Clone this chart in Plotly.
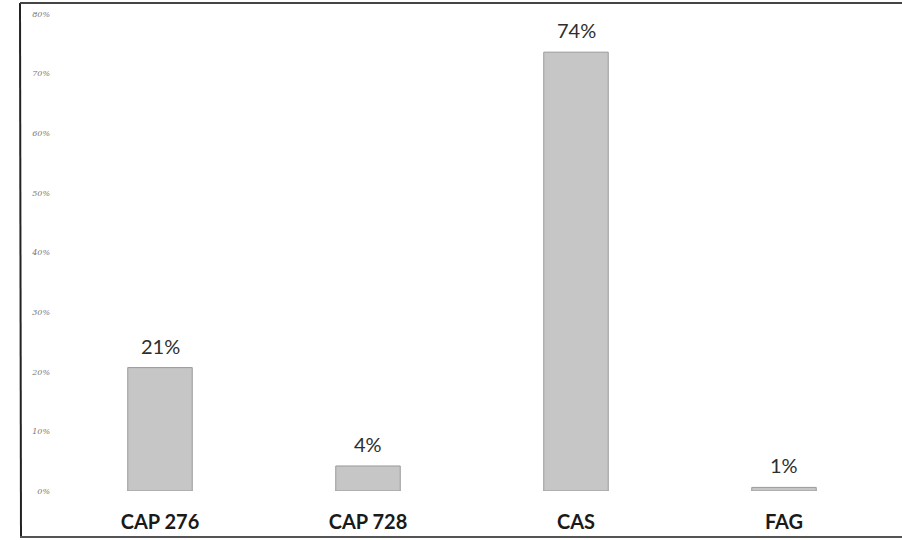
import plotly.graph_objects as go

categories = ["CAP 276", "CAP 728", "CAS", "FAG"]
values = [20.7, 4.2, 73.6, 0.6]
value_labels = ["21%", "4%", "74%", "1%"]
tick_vals = [0, 10, 20, 30, 40, 50, 60, 70, 80]
tick_text = ["0%", "10%", "20%", "30%", "40%", "50%", "60%", "70%", "80%"]

fig = go.Figure()
fig.add_trace(go.Bar(
    x=list(range(len(categories))), y=values,
    marker=dict(color="#c6c6c6", line=dict(color="#9a9a9a", width=1)),
    width=0.31,
    hoverinfo="skip",
))

for i, (v, t) in enumerate(zip(values, value_labels)):
    fig.add_annotation(x=i, y=v, text=t, showarrow=False, yanchor="bottom",
                       yshift=8, font=dict(family="Lato, sans-serif", size=20, color="#2e2e2e"))

W, H = 902, 540
ml, mr, mt, mb = 56, 0, 14, 49
pw, ph = W - ml - mr, H - mt - mb
cat_px = 208.0
x_hi = -0.5 + pw / cat_px

def px(x):
    return (x - ml) / pw

def py(y):
    return (H - mb - y) / ph

fig.add_shape(type="line", xref="paper", yref="paper", x0=px(20), x1=px(21), y0=py(3), y1=py(538),
              line=dict(color="#222222", width=2))
fig.add_shape(type="line", xref="paper", yref="paper", x0=px(20), x1=px(902), y0=py(3), y1=py(3),
              line=dict(color="#444444", width=2))
fig.add_shape(type="line", xref="paper", yref="paper", x0=px(20), x1=px(902), y0=py(537), y1=py(537),
              line=dict(color="#555555", width=2))

fig.update_layout(
    width=W, height=H,
    margin=dict(l=ml, r=mr, t=mt, b=mb, autoexpand=False),
    paper_bgcolor="white", plot_bgcolor="white",
    showlegend=False,
    xaxis=dict(range=[-0.5, x_hi], tickvals=list(range(len(categories))), ticktext=categories,
               showline=False, ticks="", showgrid=False, zeroline=False, automargin=False,
               tickfont=dict(family="Lato, sans-serif", size=20, color="#1a1a1a", weight="bold"),
               ticklabelstandoff=17),
    yaxis=dict(range=[0, 80], tickvals=tick_vals, ticktext=tick_text, showgrid=False,
               zeroline=False, showline=False, ticks="", automargin=False,
               tickfont=dict(family="DejaVu Serif, serif", size=8, color="#777777", style="italic"),
               ticklabelstandoff=5),
)

fig.write_html("out.html")
